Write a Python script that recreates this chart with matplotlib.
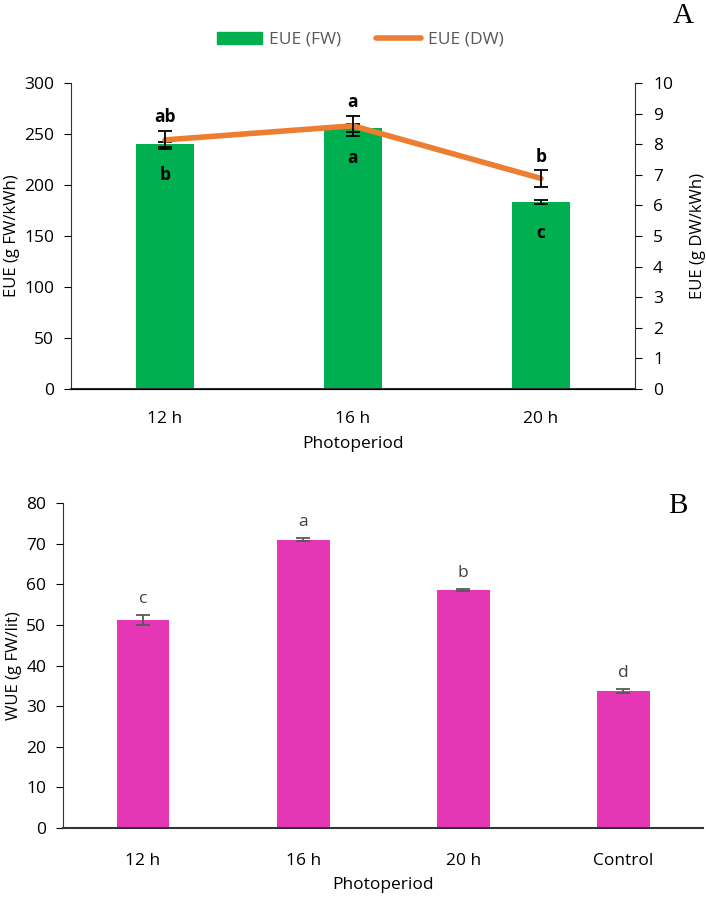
import numpy as np
import matplotlib.pyplot as plt
from matplotlib.lines import Line2D
from matplotlib.patches import Patch

plt.rcParams['font.family'] = ['Open Sans', 'DejaVu Sans']

# Panel A data
cats_a = ['12 h', '16 h', '20 h']
eue_fw = [240, 256, 183]
eue_fw_err = [2.3, 4, 2]
eue_dw = [8.14, 8.6, 6.88]
eue_dw_err = [0.3, 0.33, 0.27]
letters_dw = ['ab', 'a', 'b']
letters_fw = ['b', 'a', 'c']

# Panel B data
cats_b = ['12 h', '16 h', '20 h', 'Control']
wue = [51.2, 71.0, 58.6, 33.8]
wue_err = [1.2, 0.3, 0.3, 0.5]
letters_b = ['c', 'a', 'b', 'd']

green = '#00B050'
orange = '#ED7D31'
magenta = '#E536B5'

fig = plt.figure(figsize=(7.06, 9), dpi=100)

# ---- Panel A ----
ax = fig.add_axes([0.1006, 0.5678, 0.7988, 0.34])
x = np.arange(len(cats_a))
ax.bar(x, eue_fw, width=0.31, color=green, zorder=2)
ax.errorbar(x, eue_fw, yerr=eue_fw_err, fmt='none', ecolor='black',
            capsize=5, elinewidth=1.3, capthick=1.3, zorder=3)
ax.set_ylim(0, 300)
ax.set_xlim(-0.5, 2.5)
ax.set_yticks(range(0, 301, 50))
ax.set_xticks(x)
ax.set_xticklabels(cats_a)
ax.tick_params(axis='x', length=0, pad=16, labelsize=12.5)
ax.tick_params(axis='y', labelsize=12.5, length=5, direction='out', pad=7)
ax.set_ylabel('EUE (g FW/kWh)', fontsize=12, labelpad=3)
ax.set_xlabel('Photoperiod', fontsize=12.5, labelpad=6)
ax.spines['top'].set_visible(False)
ax.spines['right'].set_visible(False)
for s in ['left', 'bottom']:
    ax.spines[s].set_color('#333333')
ax.spines['bottom'].set_linewidth(1.5)

ax2 = ax.twinx()
ax2.plot(x, eue_dw, color=orange, lw=4, solid_capstyle='round', zorder=4)
ax2.errorbar(x, eue_dw, yerr=eue_dw_err, fmt='none', ecolor='black',
             capsize=5, elinewidth=1.3, capthick=1.3, zorder=5)
ax2.set_ylim(0, 10)
ax2.set_yticks(range(0, 11))
ax2.tick_params(axis='y', labelsize=12.5, length=5, pad=8)
ax2.set_ylabel('EUE (g DW/kWh)', fontsize=12, labelpad=12)
ax2.spines['top'].set_visible(False)
ax2.spines['left'].set_visible(False)
ax2.spines['right'].set_color('#333333')

for i in range(len(cats_a)):
    ax2.text(x[i], eue_dw[i] + eue_dw_err[i] + 0.15, letters_dw[i], ha='center',
             va='bottom', fontsize=12.5, fontweight='bold')
    ax.text(x[i], eue_fw[i] - 30, letters_fw[i], ha='center', va='center',
            fontsize=12.5, fontweight='bold')

handles = [Patch(color=green, label='EUE (FW)'),
           Line2D([0], [0], color=orange, lw=4, solid_capstyle='round', label='EUE (DW)')]
leg = fig.legend(handles=handles, loc='center', bbox_to_anchor=(0.51, 0.956), ncol=2,
                 frameon=False, fontsize=12.5, handlelength=2.6, columnspacing=2.0,
                 handletextpad=0.4)
for t in leg.get_texts():
    t.set_color('#595959')

fig.text(0.968, 0.982, 'A', fontsize=21, family='Liberation Serif', ha='center', va='center')

# ---- Panel B ----
bx = fig.add_axes([0.0892, 0.08, 0.907, 0.3611])
xb = np.arange(len(cats_b))
bx.bar(xb, wue, width=0.33, color=magenta, zorder=2)
bx.errorbar(xb, wue, yerr=wue_err, fmt='none', ecolor='#595959',
            capsize=5, elinewidth=1.3, capthick=1.3, zorder=3)
for i in range(len(cats_b)):
    bx.text(xb[i], wue[i] + wue_err[i] + 2.0, letters_b[i], ha='center', va='bottom',
            fontsize=12.5, color='#404040')
bx.set_ylim(0, 80)
bx.set_xlim(-0.5, 3.5)
bx.set_yticks(range(0, 81, 10))
bx.set_xticks(xb)
bx.set_xticklabels(cats_b)
bx.tick_params(axis='x', length=0, pad=18, labelsize=12.5)
bx.tick_params(axis='y', labelsize=12.5, length=5, pad=7)
bx.set_ylabel('WUE (g FW/lit)', fontsize=12, labelpad=3)
bx.set_xlabel('Photoperiod', fontsize=12.5, labelpad=6)
bx.spines['top'].set_visible(False)
bx.spines['right'].set_visible(False)
for s in ['left', 'bottom']:
    bx.spines[s].set_color('#333333')
bx.spines['bottom'].set_linewidth(1.5)

fig.text(0.96, 0.438, 'B', fontsize=21, family='Liberation Serif', ha='center', va='center')

fig.savefig('out.png', dpi=100)
